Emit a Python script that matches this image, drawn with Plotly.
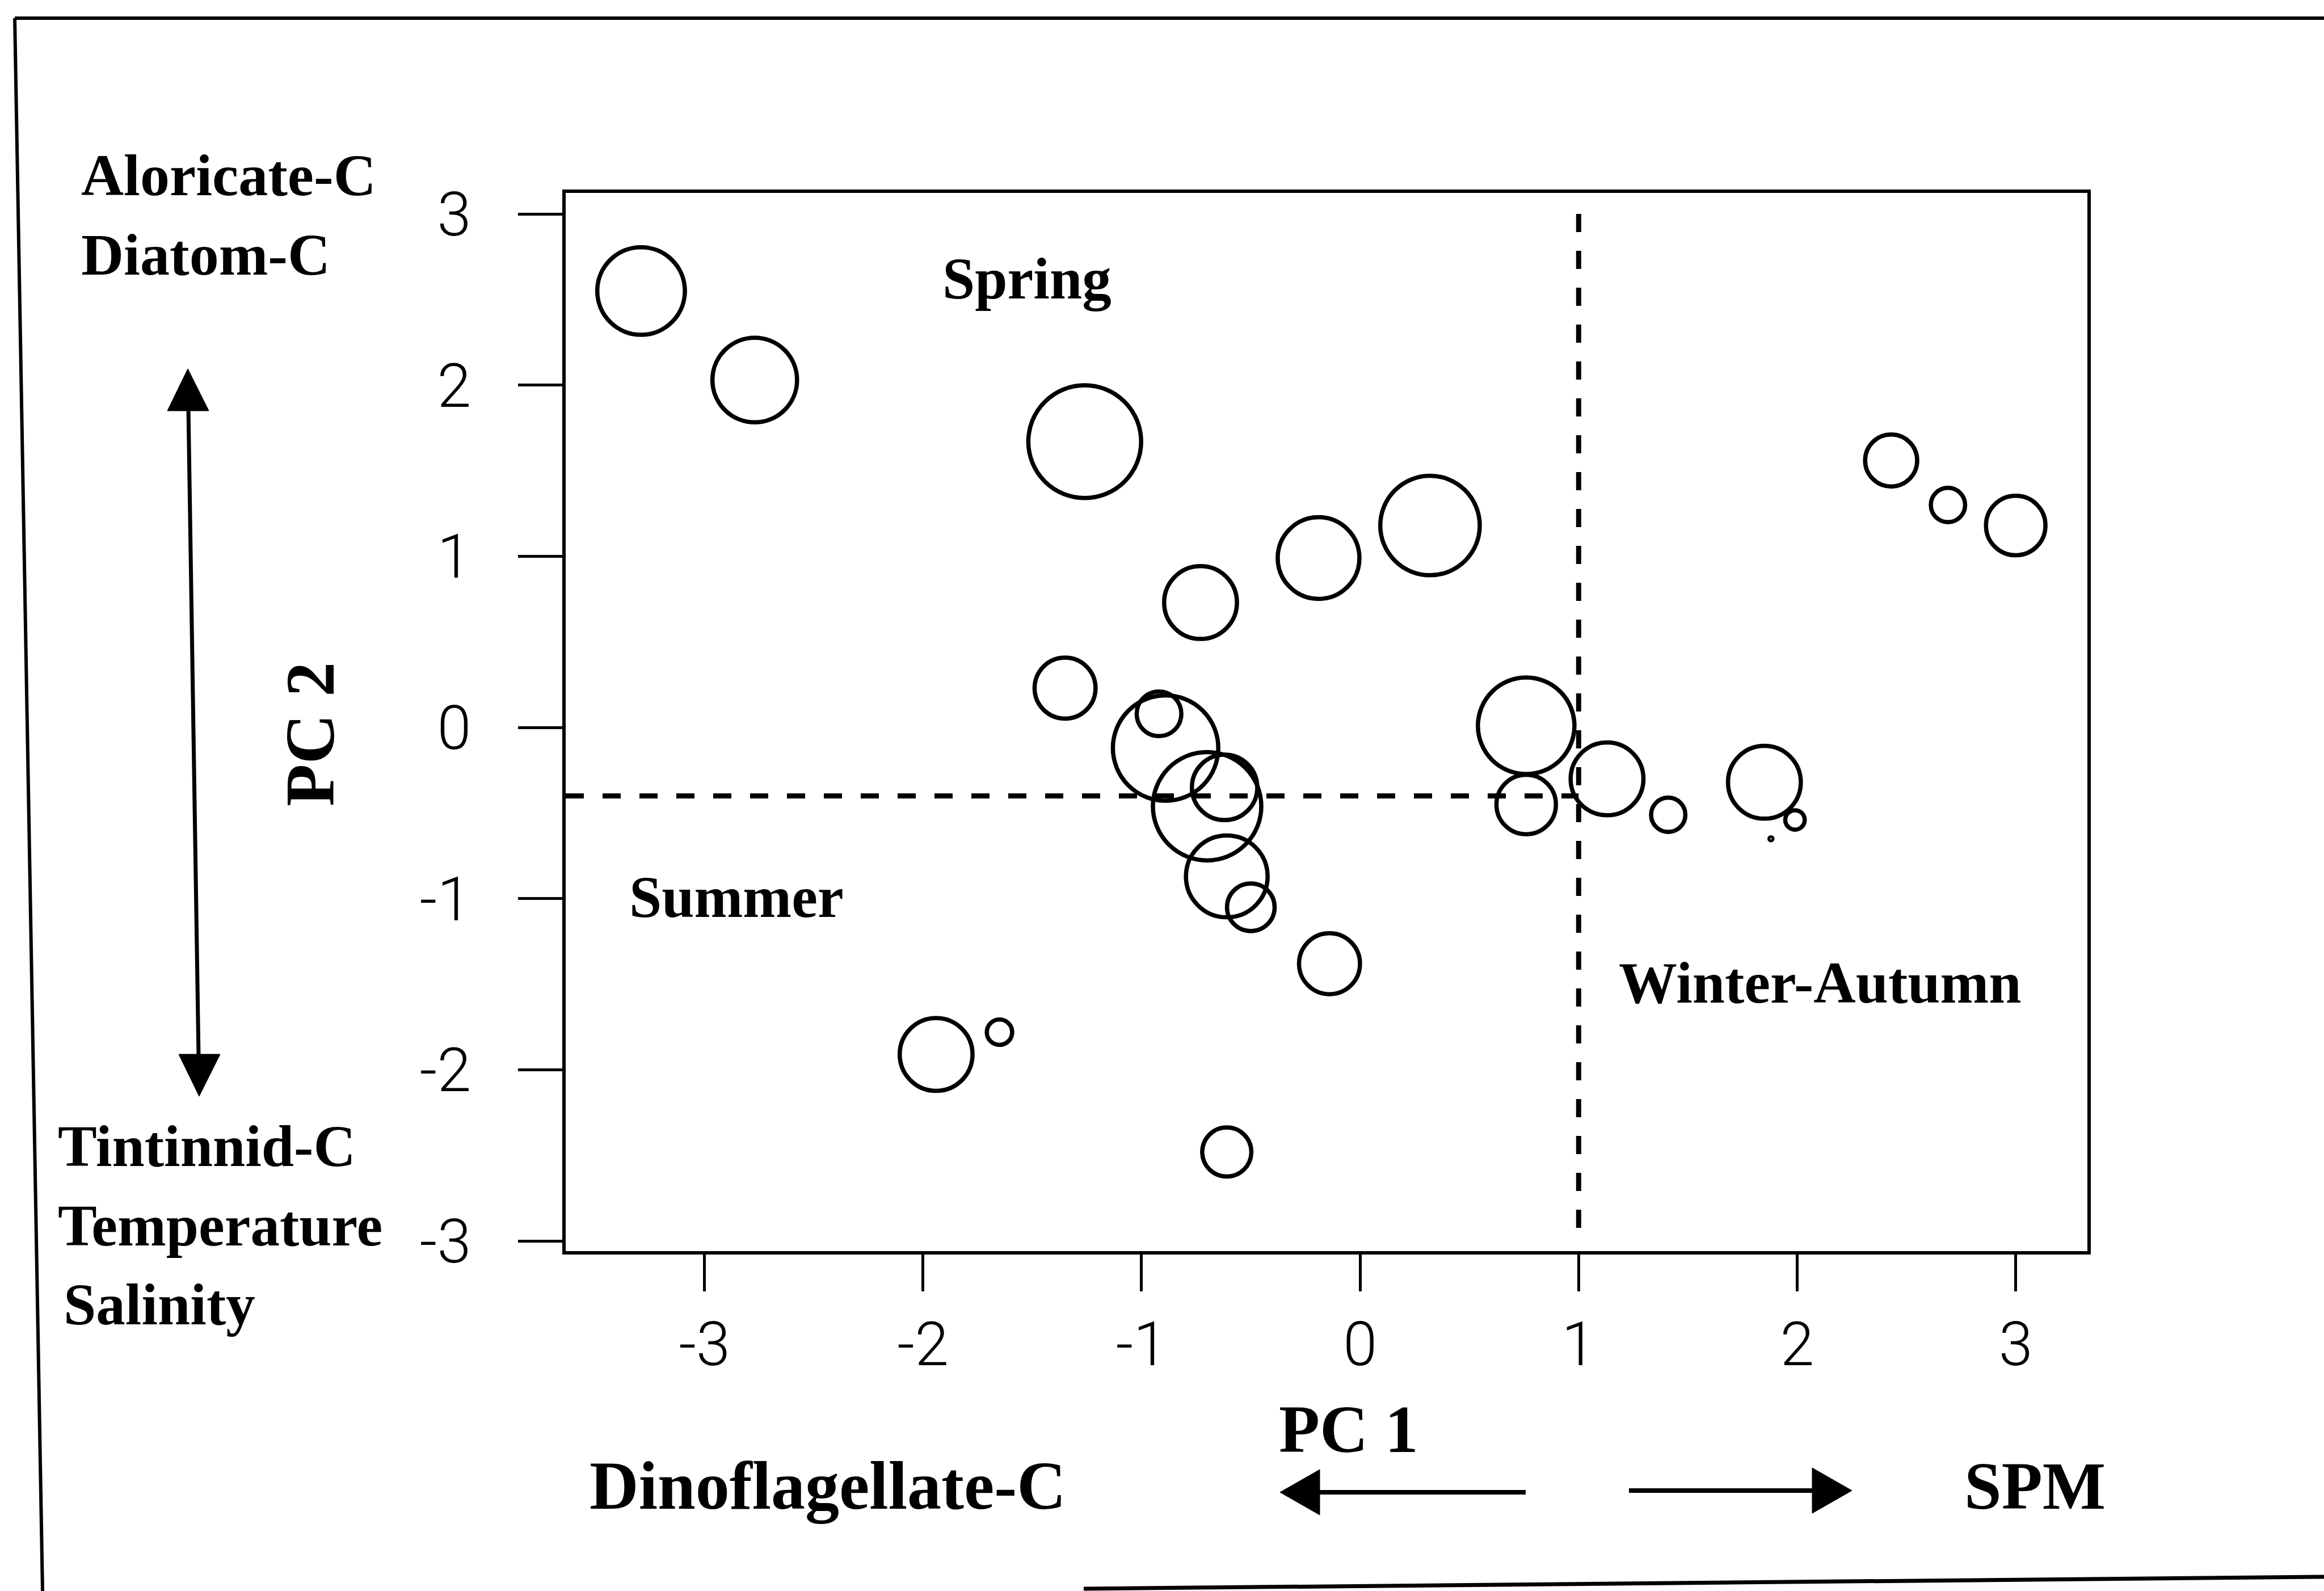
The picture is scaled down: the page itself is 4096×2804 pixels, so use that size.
import plotly.graph_objects as go

# PCA scores of the sampling stations (PC 1, PC 2) and bubble magnitude
pc1 = [-3.29, -2.77, -1.26, 0.32, -0.19, -0.73, -1.35, -0.92, -0.89, -0.62,
       -0.70, -0.61, -0.50, -0.14, -1.94, -1.65, -0.61, 0.76, 0.76, 1.13,
       1.41, 1.85, 1.99, 2.43, 2.69, 3.00, 1.88]
pc2 = [2.55, 2.03, 1.67, 1.18, 0.99, 0.73, 0.23, 0.08, -0.12, -0.35,
       -0.46, -0.87, -1.05, -1.38, -1.91, -1.78, -2.48, 0.01, -0.45, -0.30,
       -0.51, -0.32, -0.54, 1.56, 1.30, 1.18, -0.65]
bubble = [62, 60, 79, 70, 58, 52, 44, 33, 74, 47,
          76, 58, 35, 44, 52, 20, 36, 68, 43, 52,
          26, 52, 16, 38, 26, 43, 2]

x_ticks = [-3, -2, -1, 0, 1, 2, 3]
x_tick_text = ["-3", "-2", "-1", "0", "1", "2", "3"]
y_ticks = [-3, -2, -1, 0, 1, 2, 3]
y_tick_text = ["-3", "-2", "-1", "0", "1", "2", "3"]

# season boundaries
split_pc1 = 1.0
split_pc2 = -0.4
split_pc2_span = [3.0, -3.0]

x_range = [-3.635, 3.328]
y_range = [-3.059, 3.123]

# canvas geometry (pixels)
W, H = 4096, 2804
L, R, T, B = 997, 417, 340, 599
PW, PH = W - L - R, H - T - B


def px(x):
    return (x - L) / PW


def py(y):
    return (H - B - y) / PH


BUBBLE_SCALE = 2.612
LINE_W = 7.5
sizes = [max(v * BUBBLE_SCALE - LINE_W, 5) for v in bubble]

SERIF = "Liberation Serif, Times New Roman, serif"
TICK_FONT = dict(family="Roboto, Liberation Sans, sans-serif", size=108,
                 color="black", weight=300)

fig = go.Figure()
fig.add_trace(go.Scatter(
    x=pc1, y=pc2, mode="markers",
    marker=dict(size=sizes, sizemode="diameter", color="rgba(0,0,0,0)",
                opacity=1, line=dict(color="black", width=LINE_W)),
    cliponaxis=False, showlegend=False, hoverinfo="skip",
))

shapes = []
dash = "32px,33px"
# dashed season boundaries
shapes.append(dict(type="line", xref="x", yref="y",
                   x0=split_pc1, x1=split_pc1,
                   y0=split_pc2_span[0], y1=split_pc2_span[1],
                   line=dict(color="black", width=9, dash=dash)))
shapes.append(dict(type="line", xref="x", yref="y",
                   x0=x_range[0], x1=split_pc1, y0=split_pc2, y1=split_pc2,
                   line=dict(color="black", width=9, dash=dash)))


def pline(x0, y0, x1, y1, w):
    return dict(type="line", xref="paper", yref="paper",
                x0=px(x0), y0=py(y0), x1=px(x1), y1=py(y1),
                line=dict(color="black", width=w))


def ptri(pts):
    path = "M " + " L ".join(f"{px(a):.5f},{py(b):.5f}" for a, b in pts) + " Z"
    return dict(type="path", xref="paper", yref="paper", path=path,
                fillcolor="black", line=dict(color="black", width=1))


# outer frame of the figure
shapes.append(pline(26, 32, 4096, 32, 6))
shapes.append(pline(26, 32, 75, 2804, 6))
shapes.append(pline(1910, 2800, 4096, 2779, 7))

# PC 2 direction arrow
shapes.append(pline(332, 720, 350, 1862, 7))
shapes.append(ptri([(331, 650), (295, 724), (368, 724)]))
shapes.append(ptri([(351, 1932), (315, 1858), (388, 1858)]))

# PC 1 direction arrows
shapes.append(pline(2320, 2630, 2689, 2630, 8))
shapes.append(ptri([(2256, 2630), (2326, 2590), (2326, 2670)]))
shapes.append(pline(2871, 2627, 3200, 2627, 8))
shapes.append(ptri([(3264, 2627), (3194, 2587), (3194, 2667)]))


def label(text, x, y, size, xanchor="left", angle=0):
    return dict(text=text, x=px(x), y=py(y), xref="paper", yref="paper",
                xanchor=xanchor, yanchor="middle", showarrow=False,
                textangle=angle,
                font=dict(family=SERIF, size=size, color="black", weight=700))


annotations = [
    label("Aloricate-C", 141, 309, 104),
    label("Diatom-C", 141, 449, 104),
    label("Tintinnid-C", 100, 2020, 103),
    label("Temperature", 100, 2160, 103),
    label("Salinity", 110, 2299, 103),
    label("Spring", 1810, 491, 103, "center"),
    label("Summer", 1298, 1581, 103, "center"),
    label("Winter-Autumn", 3208, 1732, 103, "center"),
    label("Dinoflagellate-C", 1037, 2619, 120),
    label("PC 1", 2377, 2519, 118, "center"),
    label("SPM", 3586, 2619, 118, "center"),
    label("PC 2", 546, 1294, 122, "center", -90),
]

axis_common = dict(ticks="outside", tickwidth=5, tickcolor="black",
                   showline=True, linewidth=6, linecolor="black", mirror=True,
                   showgrid=False, zeroline=False, tickfont=TICK_FONT)

fig.update_layout(
    width=W, height=H,
    margin=dict(l=L, r=R, t=T, b=B, autoexpand=False),
    paper_bgcolor="white", plot_bgcolor="white",
    xaxis=dict(range=x_range, tickvals=x_ticks, ticktext=x_tick_text,
               ticklen=65, ticklabelstandoff=0, **axis_common),
    yaxis=dict(range=y_range, tickvals=y_ticks, ticktext=y_tick_text,
               ticklen=78, ticklabelstandoff=61, **axis_common),
    shapes=shapes, annotations=annotations, showlegend=False,
)

fig.write_html("out.html")
